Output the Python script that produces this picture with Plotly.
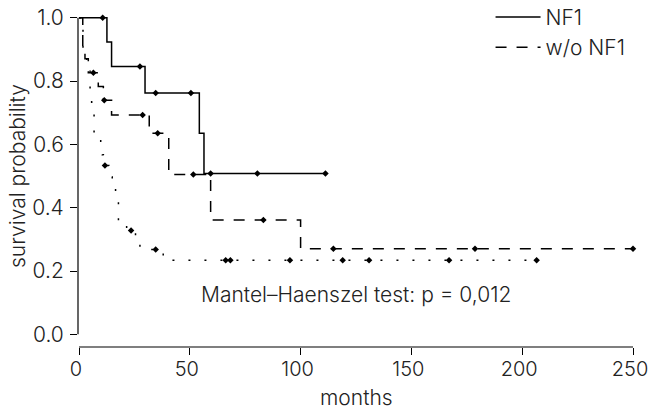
import plotly.graph_objects as go
import numpy as np

# ---------------- data ----------------
nf1_times = [0, 12.6, 14.7, 29.8, 54.3, 56.4]
nf1_surv = [1.0, 0.923, 0.846, 0.762, 0.635, 0.508]
nf1_censor = [10.7, 27.5, 34.6, 50.5, 59.4, 80.5, 111.2]

wo_times = [0, 1.7, 2.7, 4.2, 8.7, 11.0, 14.7, 31.7, 40.5, 59.4, 100.0]
wo_surv = [1.0, 0.913, 0.870, 0.826, 0.783, 0.739, 0.693, 0.635, 0.505, 0.361, 0.270]
wo_censor = [6.5, 11.4, 28.7, 35.5, 51.6, 83.2, 114.8, 178.7, 250.0]

oth_times = [0, 1.8, 3.5, 5.0, 5.7, 6.8, 9.8, 10.5, 11.0, 13.5, 15.0, 16.5, 17.8, 21.5, 25.5, 27.5, 38.0]
oth_surv = [1.0, 0.900, 0.833, 0.767, 0.733, 0.633, 0.600, 0.567, 0.533, 0.497, 0.460, 0.425, 0.355, 0.328, 0.300, 0.268, 0.234]
oth_censor = [11.7, 23.5, 34.6, 66.2, 68.3, 95.2, 119.0, 130.9, 167.0, 206.5]

x_ticks = [0, 50, 100, 150, 200, 250]
y_ticks = [0.0, 0.2, 0.4, 0.6, 0.8, 1.0]
y_tick_text = ["0.0", "0.2", "0.4", "0.6", "0.8", "1.0"]

legend_names = ["NF1", "w/o NF1"]
x_title = "months"
y_title = "survival probability"
test_text = "Mantel\u2013Haenszel test: p = 0,012"

# ---------------- helpers ----------------
def step_value(times, surv, t):
    idx = np.searchsorted(times, t, side="right") - 1
    return surv[idx]

def step_curve(times, surv, censor):
    end = max(censor[-1], times[-1])
    xs = list(times) + [end]
    ys = list(surv) + [surv[-1]]
    return xs, ys

FONT = "Inter"
FW = 300
FS = 21
TXT = "#222222"
fnt = dict(size=FS, family=FONT, color=TXT, weight=FW)
xtick_fnt = dict(size=20, family=FONT, color=TXT, weight=FW)

fig = go.Figure()

groups = [
    (nf1_times, nf1_surv, nf1_censor, "solid", legend_names[0], True),
    (wo_times, wo_surv, wo_censor, "11px,10px", legend_names[1], True),
    (oth_times, oth_surv, oth_censor, "2px,14px", "other", False),
]

for times, surv, censor, dash, name, show in groups:
    xs, ys = step_curve(times, surv, censor)
    fig.add_trace(go.Scatter(
        x=xs, y=ys, mode="lines", line=dict(color="black", width=1.5, dash=dash, shape="hv"),
        name=name, showlegend=show, hoverinfo="skip"))
    cy = [step_value(times, surv, t) for t in censor]
    fig.add_trace(go.Scatter(
        x=censor, y=cy, mode="markers",
        marker=dict(symbol="diamond", size=5, color="black"),
        showlegend=False, hoverinfo="skip"))

# ---------------- layout ----------------
W, H = 649, 412
L, R, T, B = 78, 4, 5, 65
px_per_x = 2.216
x0 = -0.45
x1 = x0 + (W - L - R) / px_per_x

fig.update_layout(
    width=W, height=H,
    margin=dict(l=L, r=R, t=T, b=B, autoexpand=False),
    paper_bgcolor="white", plot_bgcolor="white",
    font=fnt,
    showlegend=True,
    legend=dict(x=0.7276, y=1.024, xanchor="left", yanchor="top",
                bgcolor="rgba(0,0,0,0)", borderwidth=0,
                font=fnt, itemwidth=45),
    xaxis=dict(range=[x0, x1], tickvals=x_ticks, ticks="outside", ticklen=7,
               tickwidth=1, tickcolor="black", showline=False, showgrid=False,
               zeroline=False, ticklabelstandoff=-3, ticklabelshift=-3, automargin=False,
               ticklabeloverflow="allow", tickfont=xtick_fnt),
    yaxis=dict(range=[-0.04, 1.04], tickvals=y_ticks, ticktext=y_tick_text,
               ticks="outside", ticklen=7, tickwidth=1, tickcolor="black",
               showline=False, showgrid=False, zeroline=False, ticklabelstandoff=2,
               automargin=False, ticklabeloverflow="allow", tickfont=fnt),
)

# axis lines in R style (spanning first to last tick only)
fig.add_shape(type="line", xref="x", yref="paper", x0=x_ticks[0], x1=x_ticks[-1], y0=0, y1=0,
              line=dict(color="black", width=1.2))
fig.add_shape(type="line", xref="paper", yref="y", x0=0, x1=0, y0=y_ticks[0], y1=y_ticks[-1],
              line=dict(color="black", width=1.2))

# axis titles
fig.add_annotation(x=125, y=0, xref="x", yref="paper", yshift=-50, text=x_title,
                   showarrow=False, font=fnt, yanchor="middle")
fig.add_annotation(x=0, y=0.5, xref="paper", yref="y", xshift=-61, text=y_title,
                   showarrow=False, font=fnt, textangle=-90, xanchor="center")

fig.add_annotation(x=125, y=0.127, xref="x", yref="y", text=test_text, showarrow=False,
                   font=fnt)

fig.write_html("out.html", config={"displayModeBar": False},
               post_script="document.body.style.margin='0';")
